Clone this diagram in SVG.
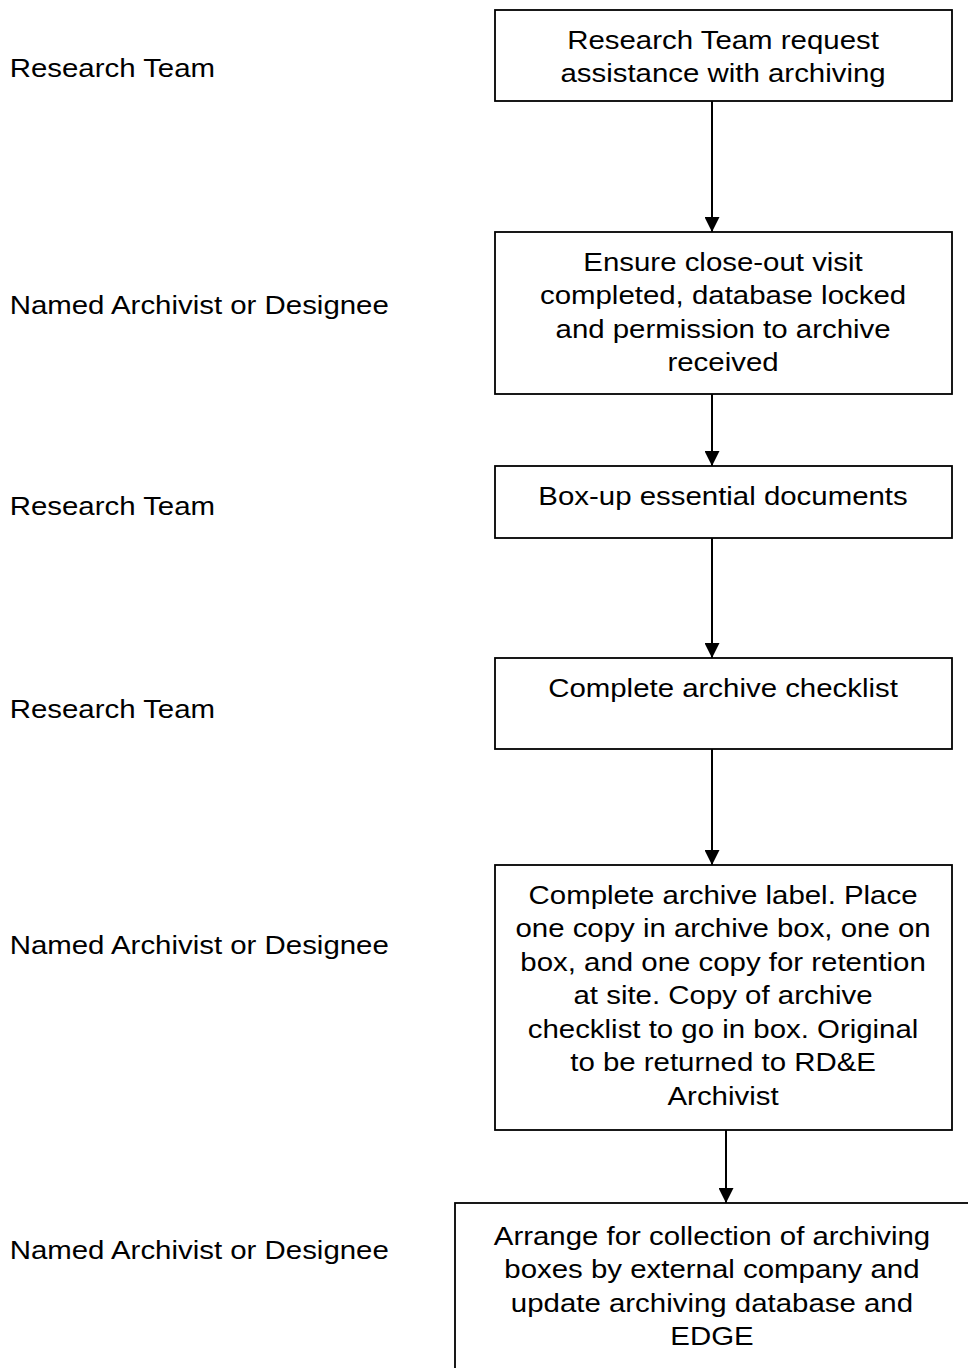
<svg xmlns="http://www.w3.org/2000/svg" width="968" height="1368" viewBox="0 0 968 1368">
  <style>
    .box { fill: #ffffff; stroke: #000000; stroke-width: 1.8; }
    .lbl { font-family: "Liberation Sans", Arial, sans-serif; font-size: 26.5px; fill: #000000; }
    .ctr { text-anchor: middle; }
    .conn { stroke: #000000; stroke-width: 2; fill: none; marker-end: url(#head); }
  </style>
  <defs>
    <marker id="head" viewBox="0 0 15 15" refX="15" refY="7.5" markerWidth="15" markerHeight="15" markerUnits="userSpaceOnUse" orient="auto">
      <path d="M0,0 L15,7.5 L0,15 z" fill="#000000"/>
    </marker>
  </defs>
  <rect width="968" height="1368" fill="#ffffff"/>

  <!-- role labels down the left side (text drawn slightly wide) -->
  <g id="roles" transform="scale(1.11 1)">
    <text class="lbl" x="8.7" y="77">Research Team</text>
    <text class="lbl" x="8.7" y="314">Named Archivist or Designee</text>
    <text class="lbl" x="8.7" y="515">Research Team</text>
    <text class="lbl" x="8.7" y="718">Research Team</text>
    <text class="lbl" x="8.7" y="954">Named Archivist or Designee</text>
    <text class="lbl" x="8.7" y="1259">Named Archivist or Designee</text>
  </g>

  <!-- connectors -->
  <g id="connectors">
    <line class="conn" x1="712" y1="101" x2="712" y2="232"/>
    <line class="conn" x1="712" y1="394" x2="712" y2="466"/>
    <line class="conn" x1="712" y1="538" x2="712" y2="658"/>
    <line class="conn" x1="712" y1="749" x2="712" y2="865"/>
    <line class="conn" x1="726" y1="1130" x2="726" y2="1203"/>
  </g>

  <g id="step1">
    <rect class="box" x="495" y="10" width="457" height="91"/>
    <g transform="scale(1.11 1)">
      <text class="lbl ctr" x="651.4" y="49">Research Team request</text>
      <text class="lbl ctr" x="651.4" y="82.5">assistance with archiving</text>
    </g>
  </g>

  <g id="step2">
    <rect class="box" x="495" y="232" width="457" height="162"/>
    <g transform="scale(1.11 1)">
      <text class="lbl ctr" x="651.4" y="271">Ensure close-out visit</text>
      <text class="lbl ctr" x="651.4" y="304.5">completed, database locked</text>
      <text class="lbl ctr" x="651.4" y="338">and permission to archive</text>
      <text class="lbl ctr" x="651.4" y="371.5">received</text>
    </g>
  </g>

  <g id="step3">
    <rect class="box" x="495" y="466" width="457" height="72"/>
    <g transform="scale(1.11 1)">
      <text class="lbl ctr" x="651.4" y="505">Box-up essential documents</text>
    </g>
  </g>

  <g id="step4">
    <rect class="box" x="495" y="658" width="457" height="91"/>
    <g transform="scale(1.11 1)">
      <text class="lbl ctr" x="651.4" y="697">Complete archive checklist</text>
    </g>
  </g>

  <g id="step5">
    <rect class="box" x="495" y="865" width="457" height="265"/>
    <g transform="scale(1.11 1)">
      <text class="lbl ctr" x="651.4" y="904">Complete archive label. Place</text>
      <text class="lbl ctr" x="651.4" y="937.5">one copy in archive box, one on</text>
      <text class="lbl ctr" x="651.4" y="971">box, and one copy for retention</text>
      <text class="lbl ctr" x="651.4" y="1004.5">at site. Copy of archive</text>
      <text class="lbl ctr" x="651.4" y="1038">checklist to go in box. Original</text>
      <text class="lbl ctr" x="651.4" y="1071.5">to be returned to RD&amp;E</text>
      <text class="lbl ctr" x="651.4" y="1105">Archivist</text>
    </g>
  </g>

  <g id="step6">
    <rect class="box" x="455" y="1203" width="515" height="180"/>
    <g transform="scale(1.11 1)">
      <text class="lbl ctr" x="641.4" y="1245">Arrange for collection of archiving</text>
      <text class="lbl ctr" x="641.4" y="1278.5">boxes by external company and</text>
      <text class="lbl ctr" x="641.4" y="1312">update archiving database and</text>
      <text class="lbl ctr" x="641.4" y="1345.5">EDGE</text>
    </g>
  </g>
</svg>
